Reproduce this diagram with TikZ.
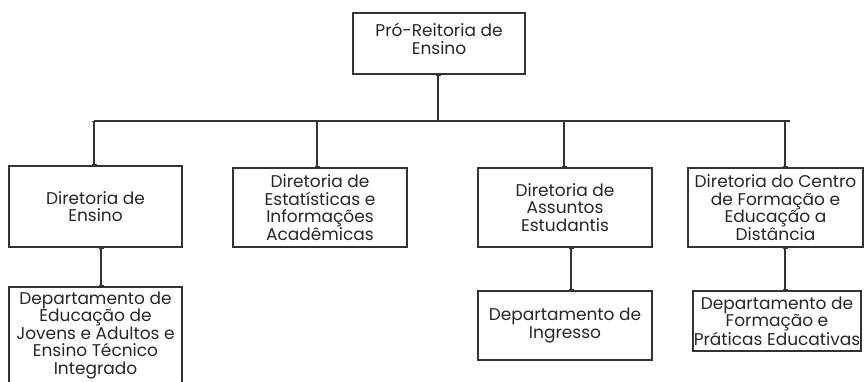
\documentclass[tikz,border=0pt]{standalone}
\usepackage{fontspec}
\setmainfont{Poppins}
\usetikzlibrary{arrows.meta}
\begin{document}
\begin{tikzpicture}[x=1pt,y=1pt,
  txt/.style={align=center, text=black!85, font=\fontsize{17}{17.5}\selectfont, inner sep=0pt},
  box/.style={txt, draw=black!80, line width=1.2pt},
  conn/.style={draw=black!80, line width=1.3pt, {Bar[width=5pt,line width=1pt]}-{Bar[width=5pt,line width=1pt]}},
  bus/.style={draw=black!80, line width=1.3pt}]
\useasboundingbox (0,0) rectangle (865,-381);
\node[box, minimum width=172pt, minimum height=61pt] (top) at (439,-43.5) {};
\node[txt] (toptext) at (439,-39) {Pró-Reitoria de\\Ensino};
\node[box, minimum width=173pt, minimum height=81pt] (b1) at (95.5,-206.5) {Diretoria de\\Ensino};
\node[box, minimum width=174pt, minimum height=79pt] (b2) at (320,-207.5) {Diretoria de\\Estatísticas e\\Informações\\Acadêmicas};
\node[box, minimum width=174pt, minimum height=79pt] (b3) at (565,-207.5) {Diretoria de\\Assuntos\\Estudantis};
\node[box, minimum width=175pt, minimum height=79pt] (b4) at (775.5,-207.5) {Diretoria do Centro\\de Formação e\\Educação a\\Distância};
\node[box, minimum width=173pt, minimum height=96pt] (d1) at (95.5,-335) {Departamento de\\Educação de\\Jovens e Adultos e\\Ensino Técnico\\Integrado};
\node[box, minimum width=174pt, minimum height=69pt] (d3) at (565,-325.5) {Departamento de\\Ingresso};
\node[box, minimum width=168pt, minimum height=60pt] (d4) at (777,-321) {Departamento de\\Formação e\\Práticas Educativas};
\coordinate (busL) at (94,-121);
\coordinate (busR) at (790,-121);
\coordinate (t0) at (438,-121);
\coordinate (t1) at (94,-121);
\coordinate (t2) at (317,-121);
\coordinate (t3) at (564,-121);
\coordinate (t4) at (785,-121);
\draw[bus] (busL) -- (busR);
\draw[conn] (top.south -| t0) -- (t0);
\draw[conn] (t1) -- (t1 |- b1.north);
\draw[conn] (t2) -- (t2 |- b2.north);
\draw[conn] (t3) -- (t3 |- b3.north);
\draw[conn] (t4) -- (t4 |- b4.north);
\coordinate (u1) at (101,0);
\coordinate (u3) at (571,0);
\coordinate (u4) at (785,0);
\draw[conn] (u1 |- b1.south) -- (u1 |- d1.north);
\draw[conn] (u3 |- b3.south) -- (u3 |- d3.north);
\draw[conn] (u4 |- b4.south) -- (u4 |- d4.north);
\end{tikzpicture}
\end{document}
